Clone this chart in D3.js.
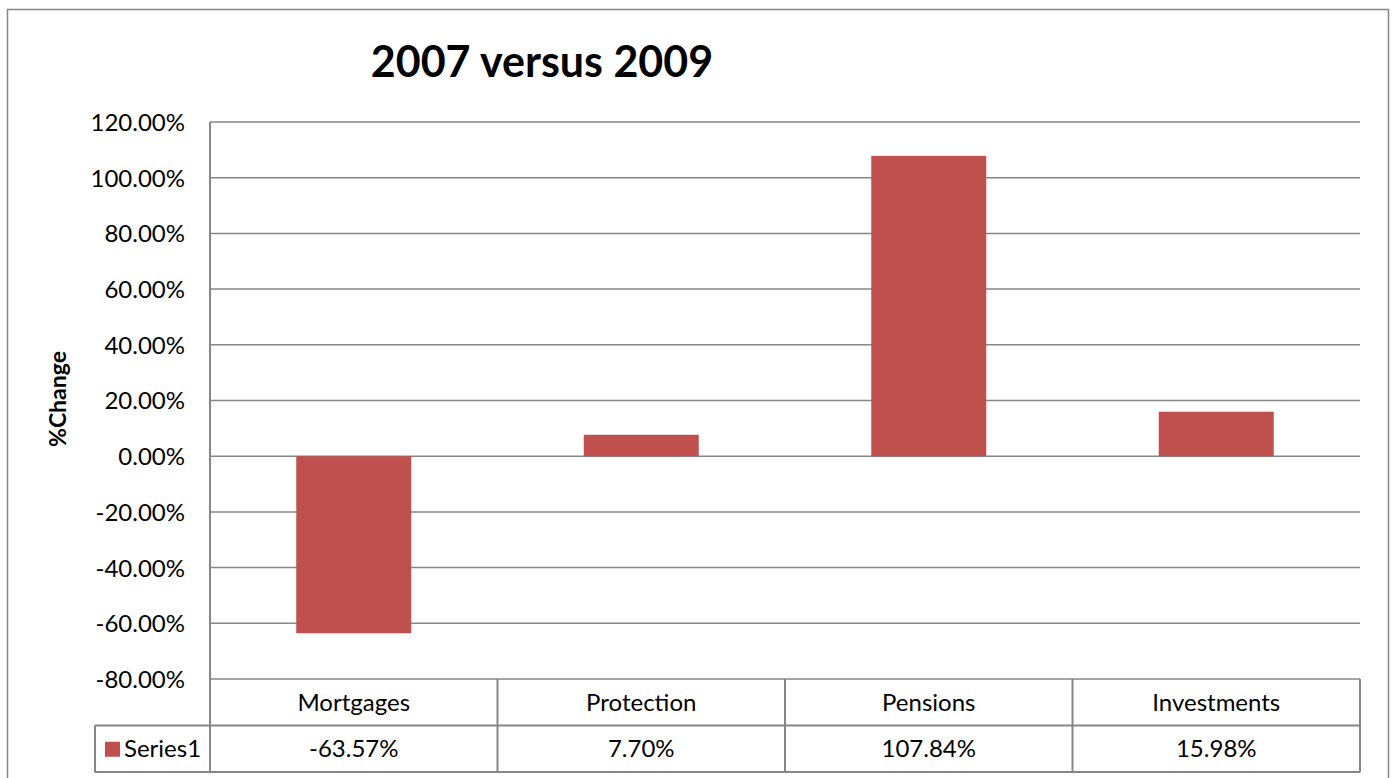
<!DOCTYPE html>
<html>
<head>
<meta charset="utf-8">
<script src="https://cdn.jsdelivr.net/npm/d3@7"></script>
<style>
  body { margin: 0; background: #fff; }
  svg text { font-family: Lato, "Open Sans", sans-serif; fill: #000; }
</style>
</head>
<body>
<script>
// chart data
var categories = ['Mortgages', 'Protection', 'Pensions', 'Investments'];
var values = [-63.57, 7.70, 107.84, 15.98];
var valueLabels = ['-63.57%', '7.70%', '107.84%', '15.98%'];
var seriesName = 'Series1';
var yTicks = [120, 100, 80, 60, 40, 20, 0, -20, -40, -60, -80];

var svgWidth = 1394, svgHeight = 778;
var plotLeft = 210, plotRight = 1360, plotTop = 122, plotBottom = 679;
var rowH = 46.5;
var barColor = '#C0504D';
var lineColor = '#868686';

var svg = d3.select('body').append('svg')
	.attr('width', svgWidth)
	.attr('height', svgHeight);

// outer frame
svg.append('rect')
	.attr('x', 7.5).attr('y', 9.5)
	.attr('width', 1381).attr('height', 800)
	.attr('fill', '#fff')
	.attr('stroke', lineColor)
	.attr('stroke-width', 1.5);

var x = d3.scaleBand().domain(categories).range([plotLeft, plotRight]).paddingInner(0).paddingOuter(0);
var y = d3.scaleLinear().domain([-80, 120]).range([plotBottom, plotTop]);

// gridlines
svg.append('g')
	.selectAll('line')
	.data(yTicks)
	.enter()
	.append('line')
	.attr('x1', plotLeft).attr('x2', plotRight)
	.attr('y1', function(d) { return y(d); })
	.attr('y2', function(d) { return y(d); })
	.attr('stroke', lineColor)
	.attr('stroke-width', 1.5);

// y axis line
svg.append('line')
	.attr('x1', plotLeft).attr('x2', plotLeft)
	.attr('y1', plotTop).attr('y2', plotBottom + 2 * rowH)
	.attr('stroke', lineColor)
	.attr('stroke-width', 2);

// y axis labels
var yAxis = d3.axisLeft(y)
	.tickValues(yTicks)
	.tickSize(0)
	.tickPadding(25)
	.tickFormat(function(d) { return d.toFixed(2) + '%'; });

var gy = svg.append('g')
	.attr('transform', 'translate(' + plotLeft + ',0)')
	.call(yAxis);
gy.select('.domain').remove();
gy.selectAll('text')
	.style('font-family', 'Lato, "Open Sans", sans-serif')
	.style('font-size', '24px')
	.style('fill', '#000')
	.attr('dy', '0.35em');

// bars
var barW = x.bandwidth() / 2.5;
svg.append('g')
	.selectAll('rect')
	.data(values)
	.enter()
	.append('rect')
	.attr('x', function(d, i) { return x(categories[i]) + (x.bandwidth() - barW) / 2; })
	.attr('y', function(d) { return y(Math.max(0, d)); })
	.attr('width', barW)
	.attr('height', function(d) { return Math.abs(y(d) - y(0)); })
	.attr('fill', barColor);

// data table
var table = svg.append('g');
table.append('line')
	.attr('x1', plotLeft).attr('x2', plotRight)
	.attr('y1', plotBottom + rowH).attr('y2', plotBottom + rowH)
	.attr('stroke', lineColor).attr('stroke-width', 2);
table.append('line')
	.attr('x1', 95).attr('x2', plotLeft)
	.attr('y1', plotBottom + rowH).attr('y2', plotBottom + rowH)
	.attr('stroke', lineColor).attr('stroke-width', 2);
table.append('line')
	.attr('x1', 95).attr('x2', plotRight)
	.attr('y1', plotBottom + 2 * rowH).attr('y2', plotBottom + 2 * rowH)
	.attr('stroke', lineColor).attr('stroke-width', 2);
table.append('line')
	.attr('x1', 95).attr('x2', 95)
	.attr('y1', plotBottom + rowH).attr('y2', plotBottom + 2 * rowH)
	.attr('stroke', lineColor).attr('stroke-width', 2);

table.selectAll('.sep')
	.data(categories)
	.enter()
	.append('line')
	.attr('class', 'sep')
	.attr('x1', function(d) { return x(d) + x.bandwidth(); })
	.attr('x2', function(d) { return x(d) + x.bandwidth(); })
	.attr('y1', plotBottom).attr('y2', plotBottom + 2 * rowH)
	.attr('stroke', lineColor).attr('stroke-width', 2);

table.selectAll('.cat')
	.data(categories)
	.enter()
	.append('text')
	.attr('class', 'cat')
	.attr('x', function(d) { return x(d) + x.bandwidth() / 2; })
	.attr('y', plotBottom + rowH / 2)
	.attr('dy', '0.35em')
	.attr('text-anchor', 'middle')
	.style('font-size', '24px')
	.text(function(d) { return d; });

table.selectAll('.val')
	.data(valueLabels)
	.enter()
	.append('text')
	.attr('class', 'val')
	.attr('x', function(d, i) { return x(categories[i]) + x.bandwidth() / 2; })
	.attr('y', plotBottom + rowH * 1.5)
	.attr('dy', '0.35em')
	.attr('text-anchor', 'middle')
	.style('font-size', '24px')
	.text(function(d) { return d; });

// legend key
table.append('rect')
	.attr('x', 105).attr('y', plotBottom + rowH * 1.5 - 7)
	.attr('width', 15).attr('height', 15)
	.attr('fill', barColor);
table.append('text')
	.attr('x', 124).attr('y', plotBottom + rowH * 1.5)
	.attr('dy', '0.35em')
	.style('font-size', '24px')
	.text(seriesName);

// title
svg.append('text')
	.attr('x', 542).attr('y', 77)
	.attr('text-anchor', 'middle')
	.style('font-size', '43px')
	.style('font-weight', 'bold')
	.text('2007 versus 2009');

// y axis title
svg.append('text')
	.attr('transform', 'translate(66,399) rotate(-90)')
	.attr('text-anchor', 'middle')
	.style('font-size', '23px')
	.style('font-weight', 'bold')
	.text('%Change');
</script>
</body>
</html>
